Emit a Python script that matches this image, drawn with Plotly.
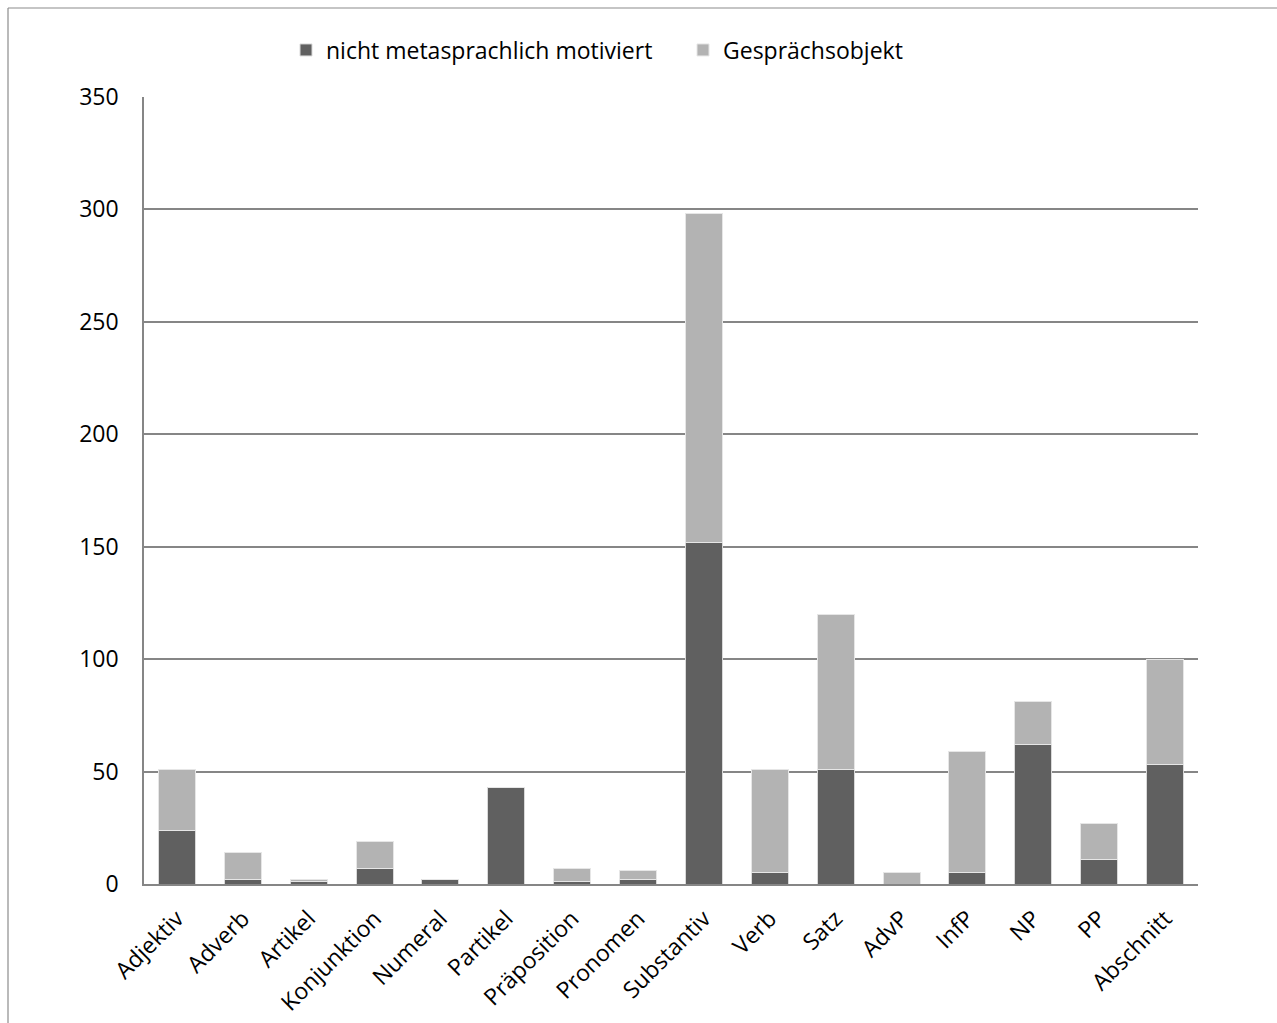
import plotly.graph_objects as go

# Word classes / phrase types on the x axis
categories = ["Adjektiv", "Adverb", "Artikel", "Konjunktion", "Numeral", "Partikel",
              "Präposition", "Pronomen", "Substantiv", "Verb", "Satz", "AdvP",
              "InfP", "NP", "PP", "Abschnitt"]

# Counts per category, stacked
nicht_metasprachlich = [24, 2, 1, 7, 2, 43, 1, 2, 152, 5, 51, 0, 5, 62, 11, 53]
gespraechsobjekt = [27, 12, 1, 12, 0, 0, 6, 4, 146, 46, 69, 5, 54, 19, 16, 47]

y_ticks = [0, 50, 100, 150, 200, 250, 300, 350]

W, H = 1277, 1023
L, R, T, B = 144, 79, 97, 139
FONT = "Open Sans"
FS = 23

fig = go.Figure()
fig.add_trace(go.Bar(
    x=categories, y=nicht_metasprachlich, name="nicht metasprachlich motiviert",
    marker=dict(color="#606060", line=dict(color="#d9d9d9", width=1)),
))
fig.add_trace(go.Bar(
    x=categories, y=gespraechsobjekt, name="Gesprächsobjekt",
    marker=dict(color="#b3b3b3", line=dict(color="#e6e6e6", width=1)),
))

pw = W - L - R
ph = H - T - B
# outer chart frame: left and top edges (the rest runs off the page)
fx0 = (8 - L) / pw
fy1 = (H - B - 8) / ph
frame = dict(color="#8c8c8c", width=1.2)
fig.add_shape(type="line", xref="paper", yref="paper",
              x0=fx0, x1=fx0, y0=-B / ph, y1=fy1, line=frame, layer="below")
fig.add_shape(type="line", xref="paper", yref="paper",
              x0=fx0, x1=(W - L) / pw, y0=fy1, y1=fy1, line=frame, layer="below")

fig.update_layout(
    width=W, height=H,
    margin=dict(l=L, r=R, t=T, b=B, pad=0),
    barmode="stack", bargap=0.44,
    plot_bgcolor="white", paper_bgcolor="white",
    font=dict(family=FONT, size=FS, color="#000000"),
    showlegend=True,
    legend=dict(
        orientation="h", x=(286 - L) / pw, xanchor="left", y=(H - B - 50) / ph, yanchor="middle",
        font=dict(family=FONT, size=FS, color="#000000"),
        itemwidth=30, entrywidth=352, entrywidthmode="pixels",
        traceorder="normal", bgcolor="rgba(0,0,0,0)",
    ),
    xaxis=dict(
        tickangle=-45, showline=True, linecolor="#868686", linewidth=2,
        ticks="", showgrid=False, tickfont=dict(family=FONT, size=FS),
        ticklabelstandoff=10, automargin=False,
    ),
    yaxis=dict(
        range=[0, 350], tickvals=y_ticks, showline=True, linecolor="#868686",
        linewidth=1.5, showgrid=True, gridcolor="#868686", gridwidth=1.5,
        ticks="", ticklen=0, zeroline=False, tickfont=dict(family=FONT, size=FS),
        ticklabelstandoff=19, automargin=False,
    ),
)

fig.write_html("out.html")
